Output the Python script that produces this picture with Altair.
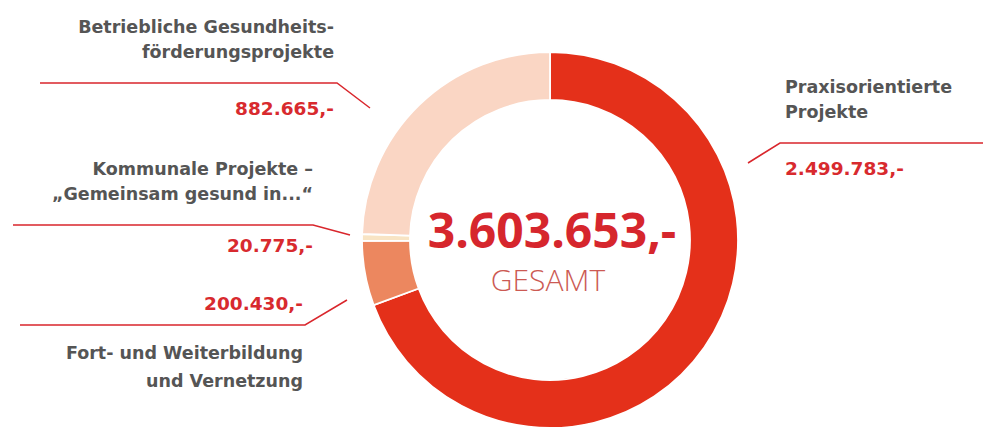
import altair as alt
import pandas as pd

# ---------------- data ----------------
categories = [
    "Praxisorientierte Projekte",
    "Fort- und Weiterbildung und Vernetzung",
    "Kommunale Projekte – „Gemeinsam gesund in...“",
    "Betriebliche Gesundheitsförderungsprojekte",
]
amounts = [2499783, 200430, 20775, 882665]
amount_labels = ["2.499.783,-", "200.430,-", "20.775,-", "882.665,-"]
label_lines = [
    ["Praxisorientierte", "Projekte"],
    ["Fort- und Weiterbildung", "und Vernetzung"],
    ["Kommunale Projekte –", "„Gemeinsam gesund in...“"],
    ["Betriebliche Gesundheits-", "förderungsprojekte"],
]
total_label = "3.603.653,-"
total_caption = "GESAMT"

# ---------------- styles ----------------
slice_colors = ["#e4301a", "#ec875f", "#f8e4c4", "#fad6c4"]
label_color = "#555555"
value_color = "#d82a2e"
line_color = "#d9262c"

# ---------------- layout (pixels) ----------------
W, H = 983, 428
CX, CY, R_OUT, R_IN = 550, 240, 188, 140
label_x = [785, 303, 313, 334]
label_align = ["left", "right", "right", "right"]
label_baselines = [[93, 118], [359, 387], [175, 200], [33, 58]]
value_baselines = [175, 310, 252, 115]
leader_points = [
    [(748, 163), (780, 143), (983, 143)],
    [(20, 325), (305, 325), (347, 300)],
    [(13, 225), (313, 225), (350, 235)],
    [(40, 83), (337, 83), (370, 108)],
]

slices = pd.DataFrame({"category": categories, "amount": amounts, "idx": range(len(categories))})

label_rows, value_rows, line_rows = [], [], []
for i, cat in enumerate(categories):
    for j, txt in enumerate(label_lines[i]):
        label_rows.append({"text": txt, "px": label_x[i], "py": label_baselines[i][j], "align": label_align[i]})
    value_rows.append({"text": amount_labels[i], "px": label_x[i], "py": value_baselines[i], "align": label_align[i]})
    for k, (px, py) in enumerate(leader_points[i]):
        line_rows.append({"category": cat, "k": k, "px": px, "py": py})

labels_df = pd.DataFrame(label_rows)
values_df = pd.DataFrame(value_rows)
lines_df = pd.DataFrame(line_rows)
center_df = pd.DataFrame({"text": [total_label], "px": [CX + 2], "py": [CY + 8]})
caption_df = pd.DataFrame({"text": [total_caption], "px": [CX - 2], "py": [CY + 51]})

xs = alt.Scale(domain=[0, W], nice=False, zero=False)
ys = alt.Scale(domain=[0, H], nice=False, zero=False, reverse=True)
X = alt.X("px:Q", scale=xs, axis=None)
Y = alt.Y("py:Q", scale=ys, axis=None)

arcs = alt.Chart(slices).mark_arc(
    innerRadius=R_IN, outerRadius=R_OUT, stroke="white", strokeWidth=1.8
).encode(
    theta=alt.Theta("amount:Q", stack=True),
    order=alt.Order("idx:Q"),
    color=alt.Color("category:N", scale=alt.Scale(domain=categories, range=slice_colors), legend=None),
    x=alt.value(CX),
    y=alt.value(CY),
)

lines = alt.Chart(lines_df).mark_line(color=line_color, strokeWidth=1.5).encode(
    x=X, y=Y, detail="category:N", order="k:Q"
)


def text_layer(df, align, **kw):
    return alt.Chart(df[df["align"] == align]).mark_text(align=align, baseline="alphabetic", **kw).encode(
        x=X, y=Y, text="text:N"
    )


label_kw = dict(font="DejaVu Sans", fontSize=17.5, fontWeight="bold", color=label_color)
value_kw = dict(font="DejaVu Sans", fontSize=18.5, fontWeight="bold", color=value_color)

layers = [
    arcs,
    lines,
    text_layer(labels_df, "left", **label_kw),
    text_layer(labels_df, "right", **label_kw),
    text_layer(values_df, "left", **value_kw),
    text_layer(values_df, "right", **value_kw),
    alt.Chart(center_df).mark_text(
        align="center", baseline="alphabetic", font="Open Sans", fontSize=48, fontWeight="bold", color="#d6262d"
    ).encode(x=X, y=Y, text="text:N"),
    alt.Chart(caption_df).mark_text(
        align="center", baseline="alphabetic", font="Open Sans", fontSize=30, fontWeight=300, color="#cc5a53"
    ).encode(x=X, y=Y, text="text:N"),
]

chart = alt.layer(*layers).properties(
    width=W, height=H, autosize=alt.AutoSizeParams(type="none"), padding=0, background="white"
).configure_view(stroke=None)

chart.save("out.html", embed_options={"renderer": "svg", "actions": False})
